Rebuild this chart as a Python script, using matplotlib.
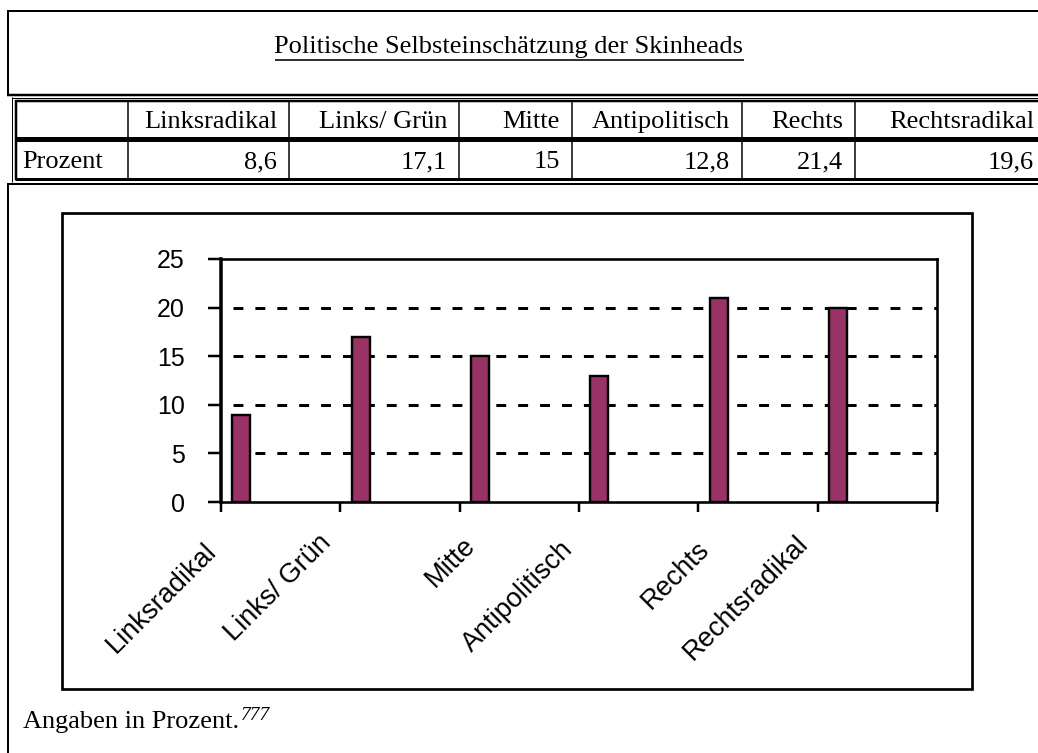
import matplotlib
matplotlib.use("Agg")
import matplotlib.pyplot as plt
from matplotlib.lines import Line2D
from matplotlib.patches import Rectangle
from matplotlib.transforms import blended_transform_factory

# data
title = "Politische Selbsteinschätzung der Skinheads"
categories = ["Linksradikal", "Links/ Grün", "Mitte", "Antipolitisch", "Rechts", "Rechtsradikal"]
table_values = [8.6, 17.1, 15, 12.8, 21.4, 19.6]   # values printed in the table
chart_values = [9, 17, 15, 13, 21, 20]             # bar heights as drawn in the chart
y_ticks = [0, 5, 10, 15, 20, 25]
row_label = "Prozent"
footnote = "Angaben in Prozent."
footnote_mark = "777"

# layout (pixels of the 1038x753 page)
W, H = 1038, 753
col_edges = [16, 128, 289, 459, 572, 742, 855, 1046]
label_dx = [-0.65, -0.69, -0.48, -0.66, -0.52, -0.69]
label_dy = [-0.149, -0.112, -0.124, -0.140, -0.140, -0.116]
serif = "Liberation Serif"
sans = "Liberation Sans"


def fx(x):
    return x / W


def fy(y):
    return 1 - y / H


def pt(px):
    return px * 0.72


fig = plt.figure(figsize=(W / 100, H / 100), dpi=100)


def hline(y, x0, x1, lw):
    fig.add_artist(Line2D([fx(x0), fx(x1)], [fy(y), fy(y)], lw=pt(lw),
                          color="black", solid_capstyle="butt"))


def vline(x, y0, y1, lw):
    fig.add_artist(Line2D([fx(x), fx(x)], [fy(y0), fy(y1)], lw=pt(lw),
                          color="black", solid_capstyle="butt"))


# title box
hline(11, 7, 1040, 2)
hline(94.5, 7, 1040, 2.5)
vline(8.3, 10, 95.5, 2)
t_title = fig.text(fx(509), fy(53), title, ha="center", va="baseline",
                   fontsize=19, family=serif)

# table with double border
hline(97.7, 12, 1040, 1)
vline(12.3, 97.2, 182, 1)
hline(101, 15, 1040, 2.5)
vline(16, 100, 180, 2.5)
hline(139.2, 15, 1040, 5)
hline(178.5, 15, 1040, 3)
for x in col_edges[1:-1]:
    vline(x, 101, 178, 1.5)

fig.text(fx(22), fy(168), row_label, ha="left", va="baseline", fontsize=19, family=serif)
for i, name in enumerate(categories):
    right = col_edges[i + 2] - 12
    fig.text(fx(right), fy(128), name, ha="right", va="baseline", fontsize=19, family=serif)
    val = f"{table_values[i]:g}".replace(".", ",")
    fig.text(fx(right), fy(168), val, ha="right", va="baseline", fontsize=19, family=serif)

# chart box
hline(184.3, 7, 1040, 2)
vline(8.3, 183.5, 760, 2)
fig.add_artist(Rectangle((fx(62), fy(688.5)), fx(972) - fx(62), fy(212.5) - fy(688.5),
                         fill=False, lw=pt(2.7), edgecolor="black",
                         transform=fig.transFigure))

# plot area
ax = fig.add_axes([fx(221), fy(502), (937 - 221) / W, (502 - 259) / H])
pos = [i - 0.33 for i in range(len(categories))]
ax.bar(pos, chart_values, width=0.15, color="#993366", edgecolor="black",
       linewidth=pt(2.4), zorder=3)
for v in y_ticks[1:-1]:
    ax.axhline(v, color="black", lw=pt(3), linestyle=(3.3, (3.3, 4.0)), zorder=1)

ax.set_xlim(-0.5, len(categories) - 0.5)
ax.set_ylim(0, 25)
ax.set_xticks([i - 0.5 for i in range(len(categories) + 1)])
ax.set_xticklabels([])
ax.set_yticks(y_ticks)
ax.set_yticklabels([str(v) for v in y_ticks], fontsize=18, family=sans)
ax.tick_params(axis="x", length=pt(10), width=pt(2.5), direction="out")
ax.tick_params(axis="y", length=pt(13), width=pt(2.5), direction="out", pad=pt(23))
for side in ["top", "right", "bottom"]:
    ax.spines[side].set_linewidth(pt(2.6))
ax.spines["left"].set_linewidth(pt(3.5))

trans = blended_transform_factory(ax.transData, ax.transAxes)
for i, name in enumerate(categories):
    ax.text(i + label_dx[i], label_dy[i], name, transform=trans, rotation=45,
            rotation_mode="anchor", ha="right", va="top", fontsize=19.5,
            family=sans, clip_on=False)

# footnote
t_foot = fig.text(fx(23), fy(728), footnote, ha="left", va="baseline",
                  fontsize=19, family=serif)

# underline title and attach footnote mark
fig.canvas.draw()
bb = t_title.get_window_extent()
hline(60, bb.x0, bb.x1, 1.6)
bb = t_foot.get_window_extent()
fig.text(fx(bb.x1 + 2), fy(720), footnote_mark, ha="left", va="baseline",
         fontsize=14, family=serif, style="italic")

fig.savefig("out.png", dpi=100)
